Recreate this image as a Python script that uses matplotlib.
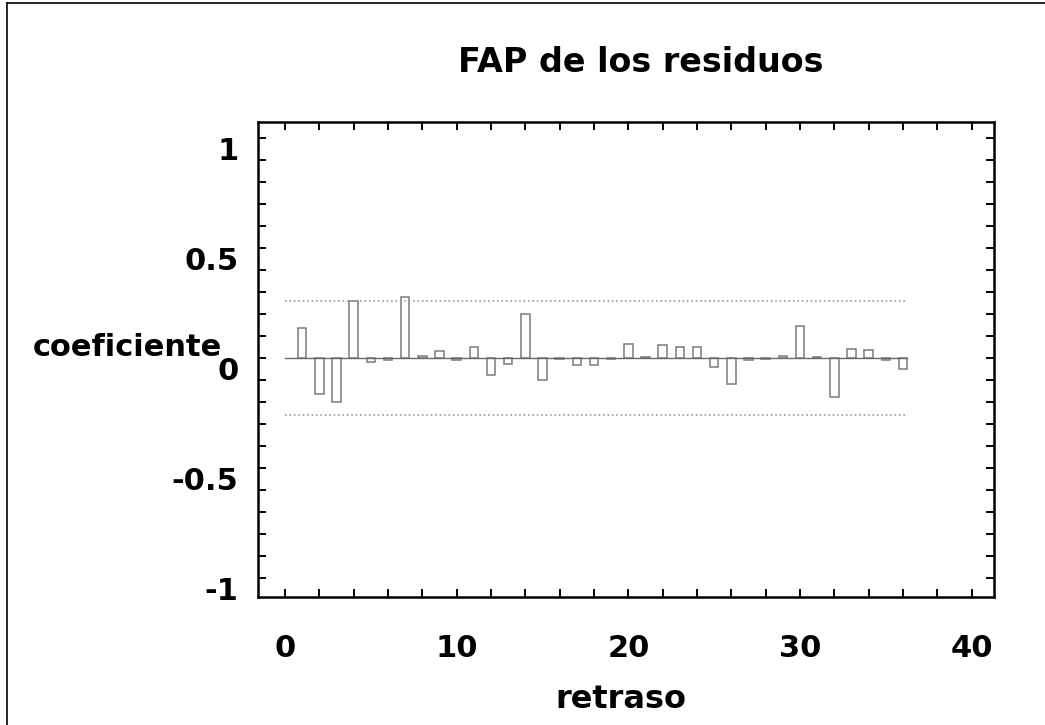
import matplotlib
matplotlib.use("Agg")
import matplotlib.pyplot as plt
from matplotlib.ticker import MultipleLocator, FormatStrFormatter
from matplotlib.transforms import ScaledTranslation
from matplotlib.lines import Line2D

# partial autocorrelations of the residuals, lags 1..36
lags = list(range(1, 37))
pacf = [0.135, -0.165, -0.20, 0.26, -0.02, -0.01, 0.278, 0.01, 0.03, -0.01,
        0.05, -0.076, -0.026, 0.20, -0.10, -0.005, -0.03, -0.03, -0.006, 0.065,
        0.005, 0.06, 0.05, 0.05, -0.04, -0.12, -0.01, -0.005, 0.01, 0.145,
        0.005, -0.18, 0.04, 0.035, -0.01, -0.05]
conf_limit = 0.26

plt.rcParams["font.family"] = ["DejaVu Sans"]
plt.rcParams["font.weight"] = "bold"

fig = plt.figure(figsize=(10.45, 7.25), dpi=100)
ax = fig.add_axes([0.2469, 0.1766, 0.7043, 0.6551])

ax.bar(lags, pacf, width=0.5, fill=False, edgecolor="#7a7a7a", linewidth=1.1)

span = [0, lags[-1] + 0.25]
ax.plot(span, [0, 0], color="#6a6a6a", linewidth=1.0)
ax.plot(span, [conf_limit, conf_limit], color="#9a9a9a", linestyle=":", linewidth=1.2)
ax.plot(span, [-conf_limit, -conf_limit], color="#9a9a9a", linestyle=":", linewidth=1.2)

ax.set_xlim(-1.57, 41.3)
ax.set_ylim(-1.088, 1.074)

ax.xaxis.set_major_locator(MultipleLocator(10))
ax.xaxis.set_minor_locator(MultipleLocator(2))
ax.yaxis.set_major_locator(MultipleLocator(0.5))
ax.yaxis.set_minor_locator(MultipleLocator(0.1))
ax.yaxis.set_major_formatter(FormatStrFormatter("%g"))

ax.tick_params(which="both", direction="in", top=True, right=True,
               length=5.5, width=1.4, labelsize=22)
ax.tick_params(axis="x", pad=27)
ax.tick_params(axis="y", pad=14)
for sp in ax.spines.values():
    sp.set_linewidth(1.8)

for lab in ax.get_yticklabels():
    lab.set_transform(lab.get_transform() + ScaledTranslation(0, -0.105, fig.dpi_scale_trans))

ax.set_xlabel("retraso", fontsize=23, fontweight="bold")
ax.xaxis.set_label_coords(0.493, -0.234)
ax.xaxis.label.set_va("baseline")

ax.set_ylabel("coeficiente", fontsize=22, fontweight="bold", rotation=0,
              ha="right", va="baseline")
ax.yaxis.set_label_coords(-0.049, 0.507)

fig.text(0.613, 0.914, "FAP de los residuos", fontsize=24, fontweight="bold",
         ha="center", va="center")

# scanned page border (left and top)
fig.add_artist(Line2D([0.007, 0.007], [0, 0.996], color="black", linewidth=1.2))
fig.add_artist(Line2D([0.007, 1], [0.996, 0.996], color="black", linewidth=1.2))

fig.savefig("out.png", dpi=100)
